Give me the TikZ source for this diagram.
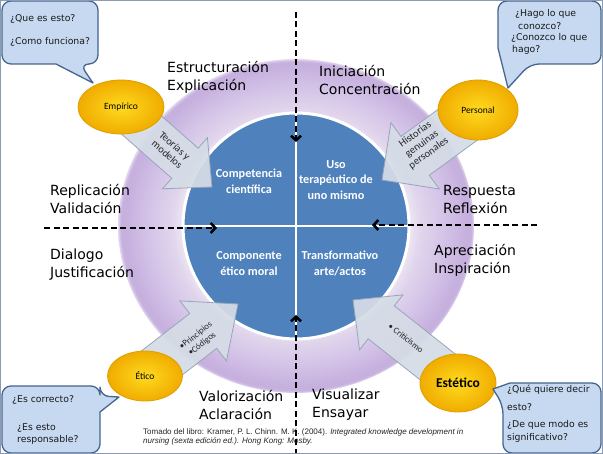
\documentclass[tikz,border=0pt]{standalone}
\usepackage{fontspec}
\setmainfont{DejaVu Sans}
\newfontfamily\calfont{Carlito}
\newfontfamily\libfont{Liberation Sans}
\usetikzlibrary{calc,shapes.geometric,arrows.meta}
\definecolor{lavW}{HTML}{F0EBF6}
\definecolor{lavA}{HTML}{E0D5EC}
\definecolor{lavB}{HTML}{D3C2E7}
\definecolor{lavC}{HTML}{C6B0DE}
\definecolor{circblue}{HTML}{4F81BD}
\definecolor{goldin}{HTML}{FFDA1F}
\definecolor{goldout}{HTML}{F0AC00}
\definecolor{golddraw}{HTML}{DDA000}
\definecolor{bubfill}{HTML}{C6D9F1}
\definecolor{bubline}{HTML}{46658F}
\definecolor{arrfill}{HTML}{D5DCE6}
\definecolor{arredge}{HTML}{98A5B8}
\definecolor{framecol}{HTML}{8A9CB5}
\definecolor{txtgray}{HTML}{262626}
\pgfdeclareradialshading{halo}{\pgfpoint{0bp}{0bp}}{color(0bp)=(lavW); color(15.5bp)=(lavW); color(17.5bp)=(lavA); color(21bp)=(lavB); color(24bp)=(lavC); color(24.6bp)=(lavC); color(25.4bp)=(white); color(50bp)=(white)}
\newcommand{\blockarr}[5]{%
  \coordinate (#1-#2-b) at ($(#2)!#5!(#1)$);
  \path[arrsty] ($(#1)!#3!90:(#2)$) -- ($(#1-#2-b)!#3!90:(#2)$) -- ($(#1-#2-b)!#4!90:(#2)$) -- (#2) -- ($(#1-#2-b)!#4!-90:(#2)$) -- ($(#1-#2-b)!#3!-90:(#2)$) -- ($(#1)!#3!-90:(#2)$) -- cycle;}
\begin{document}
\begin{tikzpicture}[x=1pt,y=-1pt,
  dashline/.style={line width=2.6pt, dash pattern=on 6pt off 3.5pt, -{Straight Barb[length=4.5pt,width=10pt]}},
  arrsty/.style={fill=arrfill, draw=arredge, line width=0.8pt, line join=miter, fill opacity=0.93},
  goldell/.style={ellipse, inner sep=0pt, inner color=goldin, outer color=goldout, draw=golddraw, line width=0.8pt},
  bubble/.style={fill=bubfill, draw=bubline, line width=1.3pt, line join=round},
  bubtxt/.style={anchor=west, inner sep=0pt, font=\fontsize{9.3}{11}\selectfont, text=black!90},
  quad/.style={anchor=west, align=left, inner sep=0pt, font=\fontsize{14}{18}\selectfont},
  coretxt/.style={align=center, text=white, inner sep=0pt, font=\calfont\bfseries\fontsize{12.2}{15.5}\selectfont},
  arrtxt/.style={align=center, inner sep=0pt, text=txtgray, font=\calfont\fontsize{10.5}{11.5}\selectfont},
  arrtxtsmall/.style={align=center, inner sep=0pt, text=txtgray, font=\calfont\fontsize{8.8}{10.5}\selectfont},
  elltxt/.style={font=\calfont\fontsize{9.5}{11}\selectfont, text=black}
]
\useasboundingbox (0,0) rectangle (603,454);
\fill[white] (0,0) rectangle (603,454);
% halo and core
\shade[shading=halo] (296,226) ellipse [x radius=178pt, y radius=167pt];
\node[circle, fill=circblue, draw=white, line width=3pt, minimum size=226pt, inner sep=0pt] (core) at (296,226) {};
\draw[white, line width=2.5pt] (core.north) -- (core.south);
\draw[white, line width=2.5pt] (core.west) -- (core.east);
\node[coretxt] (q1) at (249,181.5) {Competencia\\científica};
\node[coretxt] (q2) at (336,180) {Uso\\terapéutico de\\uno mismo};
\node[coretxt] (q3) at (249,263.5) {Componente\\ético moral};
\node[coretxt] (q4) at (340,263.5) {Transformativo\\arte/actos};
% quadrant labels
\node[quad] (l1) at (167,77) {Estructuración\\Explicación};
\node[quad] (l2) at (319,80) {Iniciación\\Concentración};
\node[quad] (l3) at (50,199) {Replicación\\Validación};
\node[quad] (l4) at (443,199) {Respuesta\\Reflexión};
\node[quad] (l5) at (50,265) {Dialogo\\Justificación};
\node[quad] (l6) at (434,260) {Apreciación\\Inspiración};
\node[quad] (l7) at (199,405) {Valorización\\Aclaración};
\node[quad] (l8) at (312,405) {Visualizar\\Ensayar};
% dashed axes
\coordinate (dT0) at (296,12);  \coordinate (dT1) at (296,142);
\coordinate (dB0) at (296,455); \coordinate (dB1) at (296,315);
\coordinate (dL0) at (44,228);  \coordinate (dL1) at (217,228);
\coordinate (dR0) at (537,225); \coordinate (dR1) at (372,225);
\draw[dashline] (dT0) -- (dT1);
\draw[dashline] (dB0) -- (dB1);
\draw[dashline] (dL0) -- (dL1);
\draw[dashline] (dR0) -- (dR1);
% block arrows
\coordinate (cEmp) at (121,107); \coordinate (tEmp) at (212,187);
\coordinate (cPer) at (478,110); \coordinate (tPer) at (382,180);
\coordinate (cEti) at (145,376); \coordinate (tEti) at (238,304);
\coordinate (cEst) at (458,383); \coordinate (tEst) at (353,300);
\blockarr{cEmp}{tEmp}{20pt}{34pt}{36pt}
\blockarr{cPer}{tPer}{24pt}{41pt}{41pt}
\blockarr{cEti}{tEti}{22pt}{38pt}{44pt}
\blockarr{cEst}{tEst}{21pt}{35pt}{36pt}
\node[arrtxt, rotate=-41] (a1) at (171,150) {Teorías y\\modelos};
\node[arrtxt, rotate=36] (a2) at (422,144) {Historias\\genuinas\\personales};
\node[arrtxtsmall, rotate=38] (a3) at (199,340) {•Principios\\•Códigos};
\node[arrtxtsmall, rotate=-38] (a4) at (406,338) {• Criticismo};
% gold ellipses
\node[goldell, minimum width=86pt, minimum height=54pt] (emp) at (cEmp) {};
\node[elltxt] (empt) at (cEmp) {Empírico};
\node[goldell, minimum width=80pt, minimum height=60pt] (per) at (cPer) {};
\node[elltxt] (pert) at (cPer) {Personal};
\node[goldell, minimum width=75pt, minimum height=50pt] (eti) at (cEti) {};
\node[elltxt] (etit) at (cEti) {Ético};
\node[goldell, minimum width=76pt, minimum height=58pt] (est) at (cEst) {};
\node[font=\calfont\bfseries\fontsize{13.5}{15}\selectfont] (estt) at (cEst) {Estético};
% speech bubbles
\path[bubble] (2,32) [rounded corners=9pt] -- (2,1) -- (98,1) -- (98,64) -- (80,64) [sharp corners] -- (93,83) -- (56,64) [rounded corners=9pt] -- (2,64) -- cycle;
\path[bubble] (549,1) [rounded corners=9pt] -- (601,1) -- (601,64) -- (530,64) [sharp corners] -- (508,88) -- (498,48) [rounded corners=9pt] -- (498,1) -- cycle;
\path[bubble] (2,420) [rounded corners=9pt] -- (2,386) -- (100,386) -- (100,396) [sharp corners] -- (119,397) -- (100,412) [rounded corners=9pt] -- (100,453) -- (2,453) -- cycle;
\path[bubble] (550,383) [rounded corners=9pt] -- (601,383) -- (601,453) -- (503,453) -- (503,405) [sharp corners] -- (493,389) -- (510,383) [rounded corners=9pt] -- cycle;
\node[bubtxt] (b1a) at (10,19) {¿Que es esto?};
\node[bubtxt] (b1b) at (10,42) {¿Como funciona?};
\node[bubtxt] (b2a) at (515,14) {¿Hago lo que};
\node[bubtxt] (b2b) at (518,26) {conozco?};
\node[bubtxt] (b2c) at (511,38) {¿Conozco lo que};
\node[bubtxt] (b2d) at (512,50) {hago?};
\node[bubtxt] (b3a) at (12,400) {¿Es correcto?};
\node[bubtxt] (b3b) at (17,428) {¿Es esto};
\node[bubtxt] (b3c) at (17,440) {responsable?};
\node[bubtxt] (b4a) at (507,390) {¿Qué quiere decir};
\node[bubtxt] (b4b) at (507,407) {esto?};
\node[bubtxt] (b4c) at (507,425) {¿De que modo es};
\node[bubtxt] (b4d) at (507,438) {significativo?};
% citation
\node[anchor=west, align=left, inner sep=0pt, text=txtgray, font=\libfont\fontsize{8}{9}\selectfont] (cite) at (143,437) {Tomado del libro: Kramer, P. L. Chinn. M. K. (2004). \textit{Integrated knowledge development in}\\\textit{nursing (sexta edición ed.). Hong Kong: Mosby.}};
% frame
\draw[framecol, line width=1.2pt] (0.6,0.6) rectangle (602.4,453.4);
\end{tikzpicture}
\end{document}
